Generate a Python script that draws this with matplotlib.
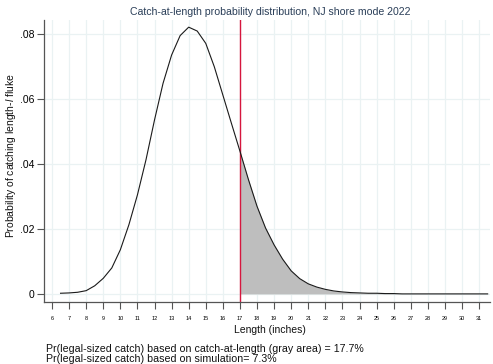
import matplotlib
matplotlib.use("Agg")
import matplotlib.pyplot as plt
import numpy as np

plt.rcParams['font.family'] = ['Liberation Sans', 'DejaVu Sans']
plt.rcParams['mathtext.fontset'] = 'custom'
plt.rcParams['mathtext.rm'] = 'Liberation Sans'
plt.rcParams['mathtext.it'] = 'Liberation Sans:italic'

# Catch-at-length probabilities, half-inch bins
lengths = [6.5, 7.0, 7.5, 8.0, 8.5, 9.0, 9.5, 10.0, 10.5, 11.0,
           11.5, 12.0, 12.5, 13.0, 13.5, 14.0, 14.5, 15.0, 15.5, 16.0,
           16.5, 17.0, 17.5, 18.0, 18.5, 19.0, 19.5, 20.0, 20.5, 21.0,
           21.5, 22.0, 22.5, 23.0, 23.5, 24.0, 24.5, 25.0, 25.5, 26.0,
           26.5, 27.0, 27.5, 28.0, 28.5, 29.0, 29.5, 30.0, 30.5, 31.0,
           31.5]
prob = [0.0002, 0.0003, 0.0005, 0.0010, 0.0025, 0.0048, 0.0080, 0.0136, 0.0213, 0.0305,
        0.0413, 0.0536, 0.0649, 0.0736, 0.0796, 0.0822, 0.0810, 0.0772, 0.0700, 0.0613,
        0.0526, 0.0440, 0.0352, 0.0270, 0.0203, 0.0151, 0.0107, 0.0071, 0.0047, 0.0031,
        0.0021, 0.0014, 0.0009, 0.0006, 0.0004, 0.0003, 0.0002, 0.0002, 0.0001, 0.0001,
        0.0000, 0.0000, 0.0000, 0.0000, 0.0000, 0.0000, 0.0000, 0.0000, 0.0000, 0.0000,
        0.0000]

min_legal = 17
x_ticks = list(range(6, 32))
y_ticks = [0, 0.02, 0.04, 0.06, 0.08]
y_tick_labels = ['0', '.02', '.04', '.06', '.08']

title = "Catch-at-length probability distribution, NJ shore mode 2022"
xlabel = "Length (inches)"
ylabel = r"Probability of catching length-$\mathit{l}$ fluke"
note_lines = ["Pr(legal-sized catch) based on catch-at-length (gray area) = 17.7%",
              "Pr(legal-sized catch) based on simulation= 7.3%"]

x = np.array(lengths)
y = np.array(prob)

fig = plt.figure(figsize=(4.93, 3.64), dpi=100)
ax = fig.add_axes([0.0892, 0.1703, 0.9048, 0.7747])

grid_c = '#eaf2f3'
for t in x_ticks:
    ax.axvline(t, color=grid_c, lw=0.9, zorder=0)
for t in y_ticks:
    ax.axhline(t, color=grid_c, lw=0.9, zorder=0)

legal = x >= min_legal
ax.fill_between(x[legal], 0, y[legal], color='#bebebe', lw=0, zorder=1)
ax.plot(x, y, color='#1a1a1a', lw=0.8, zorder=3)
ax.axvline(min_legal, color='#d6163e', lw=1.0, zorder=2)

ax.set_xlim(5.53, 31.64)
ax.set_ylim(-0.0025, 0.0844)

ax.set_xticks(x_ticks)
ax.set_xticklabels([str(t) for t in x_ticks], fontsize=4)
ax.set_yticks(y_ticks)
ax.set_yticklabels(y_tick_labels, fontsize=7.5)

for s in ['top', 'right']:
    ax.spines[s].set_visible(False)
for s in ['left', 'bottom']:
    ax.spines[s].set_color('#555555')
    ax.spines[s].set_linewidth(0.9)
ax.tick_params(axis='both', direction='out', length=5, width=0.8, color='#555555')
ax.tick_params(axis='x', pad=5)
ax.tick_params(axis='y', pad=2)

fig.text(0.548, 0.967, title, ha='center', va='center', fontsize=7.6, color='#2a3e58')
fig.text(0.548, 0.093, xlabel, ha='center', va='center', fontsize=7.5, color='#111111')
fig.text(0.022, 0.572, ylabel, ha='center', va='center', rotation=90, fontsize=7.5, color='#111111')
fig.text(0.093, 0.041, note_lines[0], ha='left', va='center', fontsize=7.7, color='#111111')
fig.text(0.093, 0.015, note_lines[1], ha='left', va='center', fontsize=7.7, color='#111111')

fig.savefig('out.png', dpi=100, facecolor='white')
